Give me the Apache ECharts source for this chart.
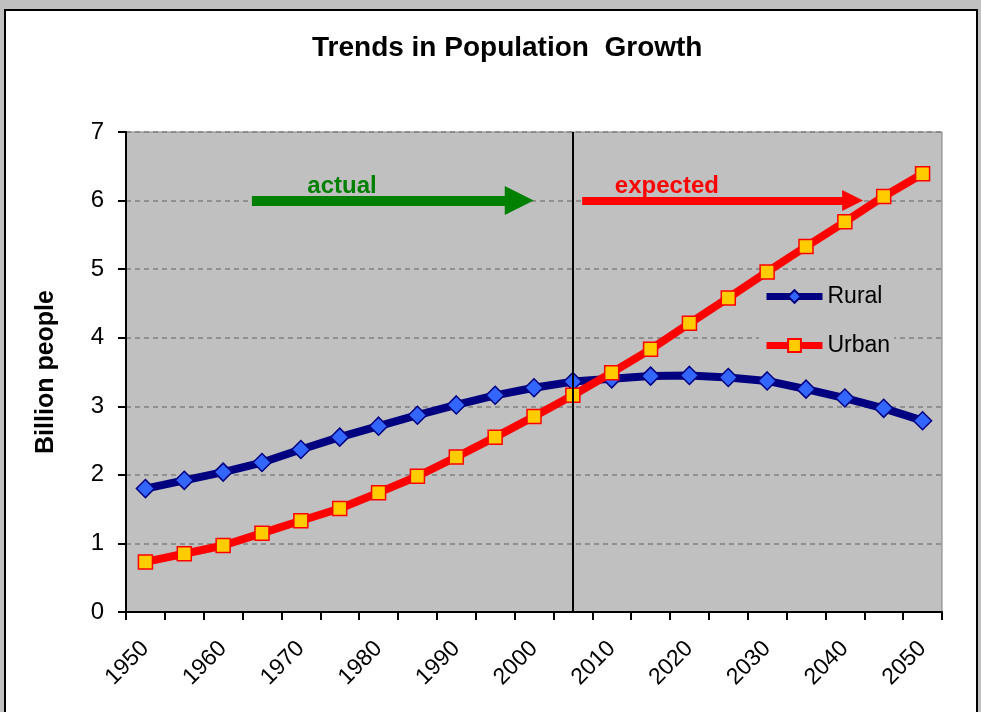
<!DOCTYPE html>
<html>
<head>
<meta charset="utf-8">
<script src="https://cdn.jsdelivr.net/npm/echarts@6/dist/echarts.min.js"></script>
<style>
html,body{margin:0;padding:0;background:#c0c0c0;}
#c{width:981px;height:712px;}
</style>
</head>
<body>
<div id="c"></div>
<script>
var years = ['1950','1955','1960','1965','1970','1975','1980','1985','1990','1995','2000','2005','2010','2015','2020','2025','2030','2035','2040','2045','2050'];
var rural = [1.80,1.92,2.04,2.18,2.37,2.55,2.71,2.87,3.02,3.16,3.27,3.36,3.40,3.44,3.45,3.42,3.37,3.25,3.12,2.97,2.79];
var urban = [0.73,0.85,0.97,1.15,1.33,1.51,1.74,1.98,2.26,2.55,2.85,3.16,3.49,3.83,4.21,4.58,4.96,5.33,5.69,6.06,6.39];
var yTicks = [0,1,2,3,4,5,6,7];
var dividerYear = '2005';
// annotation arrows in (year, value) space
var actualArrow = {from:[1963.7,6], to:[1998.1,6], text:'actual', textAt:[1975.3,6.21]};
var expectedArrow = {from:[2006.2,6], to:[2041.0,6], text:'expected', textAt:[2017.1,6.21]};

var FONT = '"Liberation Sans", Arial, sans-serif';
var chart = echarts.init(document.getElementById('c'));
chart.setOption({
  backgroundColor:'#c0c0c0',
  animation:false,
  graphic:[{type:'rect', z:-10, shape:{x:5,y:10,width:972,height:720}, style:{fill:'#ffffff', stroke:'#000000', lineWidth:2}}],
  title:{text:'Trends in Population  Growth', left:307, top:29,
    textStyle:{fontFamily:FONT, fontSize:28, fontWeight:'bold', color:'#000'}},
  grid:{left:126, top:132, right:39, bottom:100, show:true, backgroundColor:'#c0c0c0', borderColor:'#808080', borderWidth:1},
  legend:{orient:'vertical', left:759, top:283, itemWidth:56, itemHeight:16, itemGap:26,
    backgroundColor:'#c0c0c0', padding:[2,4,2,4],
    lineStyle:{width:7},
    textStyle:{fontFamily:FONT, fontSize:23, color:'#000'},
    data:['Rural','Urban']},
  xAxis:[{type:'category', data:years, boundaryGap:true,
    axisLine:{lineStyle:{color:'#000', width:2}},
    axisTick:{show:true, interval:0, length:8, inside:false, lineStyle:{color:'#000', width:2}},
    axisLabel:{interval:1, rotate:45, margin:33, fontFamily:FONT, fontSize:23, color:'#000'},
    splitLine:{show:false}},
   {type:'value', min:1947.5, max:2052.5, show:false}],
  yAxis:{type:'value', min:0, max:7, interval:1,
    name:'Billion people', nameLocation:'middle', nameGap:67, nameRotate:90,
    nameTextStyle:{fontFamily:FONT, fontSize:25, fontWeight:'bold', color:'#000'},
    axisLine:{show:true, lineStyle:{color:'#000', width:2}},
    axisTick:{show:true, length:8, lineStyle:{color:'#000', width:2}},
    axisLabel:{margin:22, fontFamily:FONT, fontSize:24, color:'#000',
      formatter:function(v){return yTicks.indexOf(v)>=0 ? String(v) : '';}},
    splitLine:{show:true, lineStyle:{color:'#808080', width:1.5, type:[5,4]}}},
  series:[
    {name:'Rural', type:'line', data:rural, z:3,
     lineStyle:{color:'#000080', width:8},
     itemStyle:{color:'#3366ff', borderColor:'#000080', borderWidth:1.5},
     symbol:'diamond', symbolSize:18, showSymbol:true,
     markLine:{silent:true, symbol:['none','none'], label:{show:false},
       lineStyle:{color:'#000', width:2, type:'solid'},
       data:[{xAxis:dividerYear}]}},
    {name:'Urban', type:'line', data:urban, z:4,
     lineStyle:{color:'#ff0000', width:8},
     itemStyle:{color:'#ffcc00', borderColor:'#ff0000', borderWidth:1.5},
     symbol:'rect', symbolSize:14, showSymbol:true},
    {name:'annot', type:'line', xAxisIndex:1, data:[], z:5,
     markLine:{silent:true, animation:false, label:{show:false},
       data:[
        [{coord:actualArrow.from, symbol:'none', lineStyle:{color:'#008000', width:10, type:'solid'}},
         {coord:actualArrow.to, symbol:'triangle', symbolSize:29}],
        [{coord:expectedArrow.from, symbol:'none', lineStyle:{color:'#ff0000', width:8, type:'solid'}},
         {coord:expectedArrow.to, symbol:'triangle', symbolSize:21}]
       ]},
     markPoint:{silent:true, symbol:'circle', symbolSize:0,
       label:{show:true, fontFamily:FONT, fontSize:24, fontWeight:'bold'},
       data:[
        {coord:actualArrow.textAt, label:{formatter:actualArrow.text, color:'#008000'}},
        {coord:expectedArrow.textAt, label:{formatter:expectedArrow.text, color:'#ff0000'}}
       ]}}
  ]
});
</script>
</body>
</html>
